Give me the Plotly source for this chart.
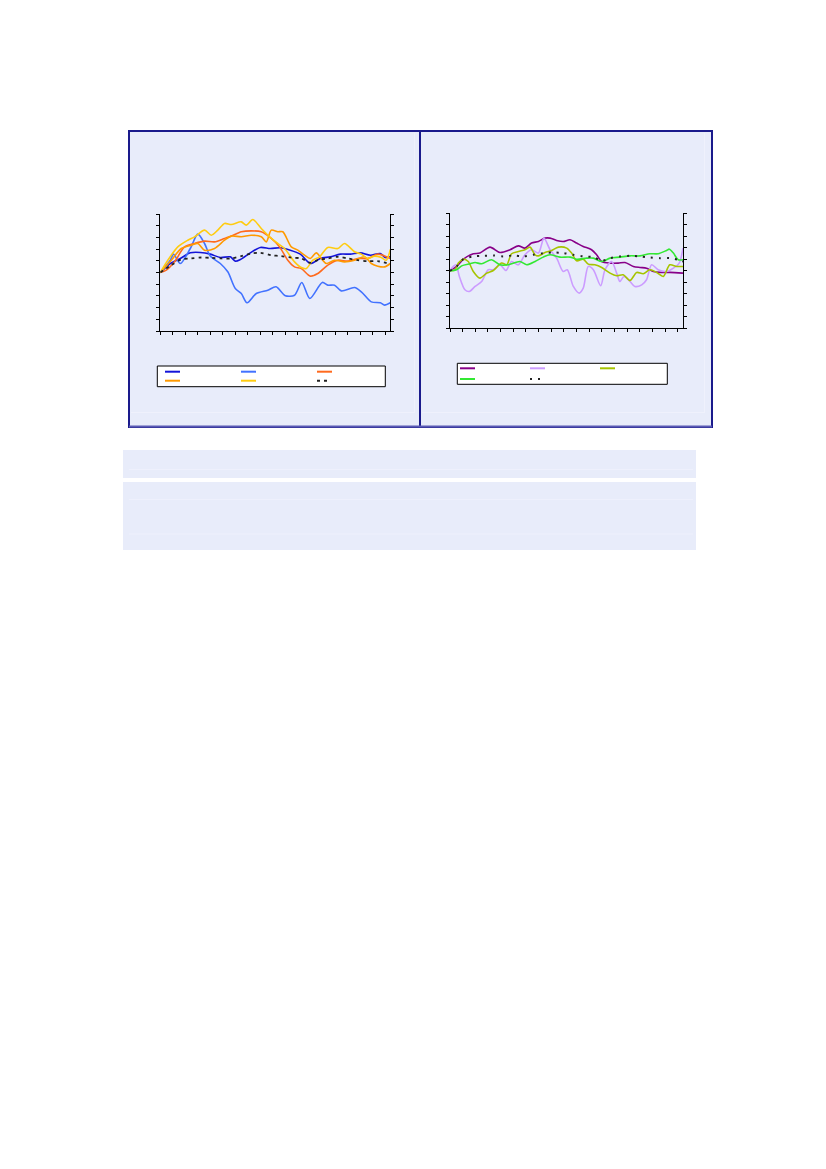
import plotly.graph_objects as go

# page body adds an 8px margin around the figure
OFF = 8
W, H = 810, 1140

# ---- left chart series (x = day index, y = % change) ----
blue_x = [0, 4, 8, 12, 16, 20, 24, 28, 30, 32, 36, 40, 44, 48, 52, 56, 60, 64, 68, 72, 76, 80, 84, 88, 90, 92]
blue_y = [0, 0.77, 1.2, 1.68, 1.71, 1.57, 1.28, 1.34, 0.97, 1.11, 1.68, 2.14, 2.05, 2.11, 1.91, 1.57, 0.77, 1.2, 1.34, 1.57, 1.57, 1.68, 1.48, 1.62, 1.28, 1.34]

lblue_x = [0, 4, 5.3, 8, 12, 15, 17.7, 20, 24, 27, 30, 32.4, 34.7, 38.4, 43, 46.3, 50, 53.7, 56.6, 59.8, 64.8, 67, 69.7, 72.4, 77.7, 80.4, 84.4, 88, 89.7, 92]
lblue_y = [0, 1.05, 1.57, 0.77, 2.05, 3.28, 2.48, 1.4, 0.77, 0.06, -1.37, -1.8, -2.59, -1.8, -1.51, -1.22, -1.99, -1.94, -0.85, -2.22, -0.85, -1.08, -1.08, -1.57, -1.28, -1.65, -2.51, -2.59, -2.79, -2.59]

red_x = [0, 2.4, 5.7, 9.7, 13.7, 17.7, 21.7, 25.7, 28.4, 32.4, 36.4, 40.4, 44.4, 47.7, 51, 53.7, 56.4, 60, 63, 67, 71, 75, 79, 83, 87, 92]
red_y = [0, 0.2, 0.91, 2.19, 2.48, 2.68, 2.62, 2.91, 3.11, 3.48, 3.56, 3.48, 2.91, 2.19, 1.05, 0.48, 0.34, -0.31, -0.09, 0.63, 1.05, 0.97, 1.2, 1.2, 1.57, 1.2]

orange_x = [0, 4.4, 8.4, 12.4, 15, 17.7, 21.7, 25.7, 28.4, 32.4, 36.4, 40.4, 42.4, 44.4, 47, 49, 52.4, 55, 57.7, 60, 62.4, 64.4, 66.4, 69.7, 73.7, 77.7, 81.7, 84.4, 87, 89.7, 92]
orange_y = [0, 1.05, 2.05, 2.34, 2.48, 1.91, 2.05, 2.76, 3.11, 3.05, 3.19, 3.05, 2.62, 3.62, 3.48, 3.48, 2.19, 1.91, 1.48, 1.2, 1.68, 1.2, 0.77, 1.05, 0.91, 1.05, 1.34, 0.77, 0.54, 0.48, 0.77]

yellow_x = [0, 3, 7, 11, 13.7, 17.7, 20.4, 23, 25.7, 28.4, 32.4, 34.4, 37, 40.4, 43.7, 47, 49.7, 53.7, 56.4, 58.4, 61, 63.7, 67, 71, 73.7, 77.7, 80.4, 83, 85.7, 88.4, 90.4, 92]
yellow_y = [0, 1.05, 2.19, 2.76, 3.05, 3.62, 3.19, 3.62, 4.19, 4.1, 4.33, 4.05, 4.53, 3.76, 3.05, 2.48, 2.05, 0.91, 0.43, 0.34, 1.05, 1.34, 2.14, 2.05, 2.48, 1.77, 1.57, 1.2, 1.4, 1.28, 1.05, 1.97]

avg_l_x = [0, 4.4, 8.4, 12.4, 16.4, 20.4, 24.4, 28.4, 32.4, 36.4, 40, 44.4, 48.4, 52.4, 56.4, 60, 63, 67, 71, 75, 79, 83, 87, 92]
avg_l_y = [0, 0.63, 1.11, 1.2, 1.28, 1.25, 1.2, 1.2, 1.4, 1.62, 1.68, 1.48, 1.4, 1.28, 1.2, 0.83, 1.05, 1.2, 1.34, 1.2, 1.05, 0.97, 0.97, 0.71]

# ---- right chart series ----
purple_x = [0, 2.6, 5.3, 9.2, 11.8, 15.8, 19.7, 23.7, 27, 29.6, 32.2, 34.9, 37.5, 39.5, 42.1, 44.7, 47.4, 50, 52.6, 55.9, 57.9, 59.9, 63.2, 66.4, 69.1, 72.4, 75, 77.6, 80.3, 82.9, 86.8, 92]
purple_y = [0, 0.38, 1.01, 1.48, 1.54, 2.06, 1.59, 1.83, 2.17, 1.97, 2.41, 2.55, 2.84, 2.84, 2.64, 2.55, 2.7, 2.41, 2.12, 1.83, 1.39, 0.81, 0.67, 0.67, 0.72, 0.38, 0.29, 0.23, -0.06, -0.14, -0.14, -0.2]

lilac_x = [0, 1.3, 2.4, 3.7, 5.9, 7.6, 9.9, 12.5, 15.1, 17.1, 19.7, 22.1, 24.3, 27, 29.6, 32.2, 34.9, 37.1, 39.5, 42.1, 44.7, 46.3, 48.7, 51, 52.6, 54.6, 56.6, 59.5, 61.2, 63.8, 65.8, 67.1, 68.7, 71.1, 73, 75.7, 77.6, 79.6, 82.2, 85.5, 88.2, 90.5, 92]
lilac_y = [0, 0.38, 0.52, -0.49, -1.65, -1.8, -1.36, -0.93, 0.09, 0.09, 0.52, 0.03, 0.81, 0.52, 1.39, 1.83, 1.54, 2.84, 1.83, 1.1, -0.06, 0.09, -1.36, -1.94, -1.51, 0.38, 0.09, -1.3, 0.09, 0.81, -0.2, -0.93, -0.49, -0.93, -1.36, -1.22, -0.78, 0.52, 0.09, -0.06, 0.23, 0.67, 1.97]

olive_x = [0, 2, 3.3, 5.3, 7.2, 9.2, 11.8, 14.5, 17.1, 20.4, 22.4, 24.3, 27, 29.6, 31.6, 33.6, 34.9, 37.5, 40.1, 42.8, 46.1, 48, 50, 52.6, 54.6, 57.2, 59.9, 63.2, 65.8, 68.4, 71.1, 73.7, 76.3, 78.9, 81.6, 84.2, 86.8, 89.5, 92]
olive_y = [0, 0.09, 0.67, 1.01, 0.81, -0.06, -0.64, -0.2, 0.03, 0.67, 0.52, 1.48, 1.68, 1.83, 2.06, 1.39, 1.3, 1.59, 1.77, 2.06, 1.97, 1.54, 0.87, 1.01, 0.58, 0.52, 0.29, -0.2, -0.43, -0.35, -0.84, -0.14, -0.26, 0.09, -0.14, -0.49, 0.52, 0.38, 0.38]

green_x = [0, 2.6, 4.6, 7.9, 9.9, 12.5, 16.4, 19.7, 23, 27.6, 30.3, 33.6, 36.8, 39.5, 43.4, 47.4, 50, 53.9, 56.6, 59.9, 63.2, 67.1, 71.1, 75, 78.9, 82.2, 85.5, 86.6, 88.2, 90.1, 92]
green_y = [0, 0.09, 0.43, 0.61, 0.72, 0.61, 0.96, 0.52, 0.52, 0.81, 0.52, 0.81, 1.19, 1.39, 1.19, 1.19, 1.01, 1.1, 1.1, 0.81, 1.1, 1.19, 1.3, 1.3, 1.48, 1.48, 1.77, 1.88, 1.54, 0.96, 0.96]

avg_r_x = [0, 2.6, 5.3, 9.2, 13.2, 17.1, 21.1, 25, 29, 32.9, 36.8, 40.8, 44.7, 48.7, 52.6, 56.6, 59.9, 63.2, 67.1, 71.1, 75, 78.9, 82.9, 86.8, 90.1, 92]
avg_r_y = [0, 0.38, 1.01, 1.25, 1.3, 1.33, 1.25, 1.33, 1.25, 1.39, 1.54, 1.59, 1.54, 1.39, 1.25, 1.19, 0.87, 1.1, 1.25, 1.3, 1.25, 1.16, 1.1, 1.1, 0.96, 0.81]

left_colors = ["#1414D8", "#4272FF", "#FF6A1E", "#FF9A00", "#FFCC11", "#222222"]
right_colors = ["#880088", "#CC9CFF", "#A6C400", "#33E833", "#222222"]

fig = go.Figure()


def add_line(x, y, color, xa, ya, dash="solid", width=1.6):
    fig.add_trace(go.Scatter(
        x=x, y=y, mode="lines", showlegend=False,
        line=dict(color=color, width=width, dash=dash, shape="spline", smoothing=0.8),
        xaxis=xa, yaxis=ya, hoverinfo="skip",
    ))


add_line(blue_x, blue_y, left_colors[0], "x", "y")
add_line(lblue_x, lblue_y, left_colors[1], "x", "y")
add_line(red_x, red_y, left_colors[2], "x", "y")
add_line(orange_x, orange_y, left_colors[3], "x", "y")
add_line(yellow_x, yellow_y, left_colors[4], "x", "y")
add_line(avg_l_x, avg_l_y, left_colors[5], "x", "y", dash="3px,4px", width=1.8)

add_line(purple_x, purple_y, right_colors[0], "x2", "y2")
add_line(lilac_x, lilac_y, right_colors[1], "x2", "y2")
add_line(olive_x, olive_y, right_colors[2], "x2", "y2")
add_line(green_x, green_y, right_colors[3], "x2", "y2")
add_line(avg_r_x, avg_r_y, right_colors[4], "x2", "y2", dash="2px,6px", width=2)


def px(v):
    return (v - OFF) / W


def py(v):
    return 1 - (v - OFF) / H


xaxis_style = dict(range=[0, 92], tick0=0, dtick=5, ticks="outside", ticklen=3,
                   tickcolor="black", showline=True, linecolor="black", linewidth=1,
                   showticklabels=False, showgrid=False, zeroline=False)
yaxis_style = dict(range=[-5, 5], tick0=-5, dtick=1, ticks="outside", ticklen=3,
                   tickcolor="black", showline=True, linecolor="black", linewidth=1,
                   mirror="ticks", showticklabels=False, showgrid=False, zeroline=False)

panel_fill = "#E8ECFA"
navy = "#1A1A8C"
faint = "#EFF1FC"


def rect(x0, x1, y0, y1, fill, line=None):
    return dict(type="rect", xref="paper", yref="paper", x0=px(x0), x1=px(x1), y0=py(y1), y1=py(y0),
                fillcolor=fill, line=line or dict(width=0), layer="below")


def hline(x0, x1, y, color, width=1, dash="solid", layer="below"):
    return dict(type="line", xref="paper", yref="paper", x0=px(x0), x1=px(x1), y0=py(y), y1=py(y),
                line=dict(color=color, width=width, dash=dash), layer=layer)


def vline(x, y0, y1, color, width=1):
    return dict(type="line", xref="paper", yref="paper", x0=px(x), x1=px(x), y0=py(y1), y1=py(y0),
                line=dict(color=color, width=width), layer="below")


shapes = [
    # chart panels
    rect(129, 420, 131, 427, panel_fill, dict(color=navy, width=2)),
    rect(420, 712, 131, 427, panel_fill, dict(color=navy, width=2)),
    hline(129, 712, 426.5, "#5A5AB4", width=2),
    # faint inner lines of the panels
    hline(131, 415, 412.5, faint), vline(414.5, 133, 412.5, faint),
    hline(422, 705, 412.5, faint), vline(704.5, 133, 412.5, faint),
    # note bars below
    rect(123, 696, 450, 478, panel_fill),
    rect(123, 696, 482, 550, panel_fill),
    hline(129, 693, 469.5, "#EEF0FC"),
    hline(129, 693, 499.5, "#EEF0FC"),
    hline(129, 693, 534, "#EEF0FC"),
]

# legend keys (boxes with coloured samples, no labels)
shapes.append(rect(157.3, 385.3, 366, 386.7, "white", dict(color="black", width=1)))
shapes[-1]["layer"] = "above"
for i, c in enumerate(left_colors):
    x0 = 165 + 76 * (i % 3)
    y = 371.7 + 9 * (i // 3)
    if i == 5:
        shapes.append(hline(x0, x0 + 11, y, c, width=2, dash="3px,4px", layer="above"))
    else:
        shapes.append(hline(x0, x0 + 15, y, c, width=2, layer="above"))

shapes.append(rect(457.3, 667.3, 363.3, 384.3, "white", dict(color="black", width=1)))
shapes[-1]["layer"] = "above"
for i, c in enumerate(right_colors):
    x0 = 460 + 70 * (i % 3)
    y = 368.3 + 10.7 * (i // 3)
    if i == 4:
        shapes.append(hline(x0, x0 + 10, y, c, width=2, dash="2px,6px", layer="above"))
    else:
        shapes.append(hline(x0, x0 + 15, y, c, width=2, layer="above"))

fig.update_layout(
    width=W, height=H,
    margin=dict(l=0, r=0, t=0, b=0),
    paper_bgcolor="white", plot_bgcolor="white",
    showlegend=False,
    xaxis=dict(domain=[px(160.3), px(390.3)], anchor="y", **xaxis_style),
    yaxis=dict(domain=[py(331), py(214)], anchor="x", **yaxis_style),
    xaxis2=dict(domain=[px(450), px(683)], anchor="y2", **xaxis_style),
    yaxis2=dict(domain=[py(328.3), py(213.3)], anchor="x2", **yaxis_style),
    shapes=shapes,
)

fig.write_html("out.html")
